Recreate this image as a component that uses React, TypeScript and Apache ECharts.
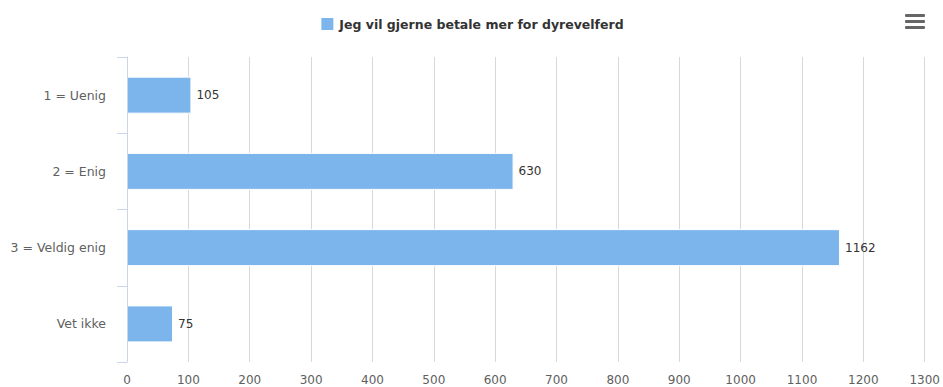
import React, { useEffect, useRef } from "react";
import * as echarts from "echarts";

const categories = ["1 = Uenig", "2 = Enig", "3 = Veldig enig", "Vet ikke"];
const values = [105, 630, 1162, 75];
const seriesName = "Jeg vil gjerne betale mer for dyrevelferd";

export default function App() {
  const ref = useRef<HTMLDivElement>(null);
  useEffect(() => {
    if (!ref.current) return;
    const chart = echarts.init(ref.current, undefined, { renderer: "svg" });
    const font = "'DejaVu Sans', sans-serif";
    chart.setOption({
      animation: false,
      textStyle: { fontFamily: font },
      legend: {
        top: 11,
        left: "center",
        itemWidth: 14,
        itemHeight: 14,
        itemGap: 8,
        icon: "rect",
        textStyle: { fontFamily: font, fontWeight: "bold", fontSize: 12.5, color: "#333", lineHeight: 14 },
        data: [seriesName],
      },
      grid: { left: 127, right: 14, top: 57, bottom: 25, containLabel: false },
      xAxis: {
        type: "value",
        min: 0,
        max: 1300,
        interval: 100,
        axisLine: { show: false },
        axisTick: { show: false },
        axisLabel: {
          color: "#606060",
          fontSize: 12,
          margin: 12,
          fontFamily: font,
          formatter: (v: number) => String(v),
        },
        splitLine: { show: true, lineStyle: { color: "#d8d8d8", width: 1 } },
      },
      yAxis: {
        type: "category",
        inverse: true,
        data: categories,
        axisLine: { show: true, lineStyle: { color: "#ccd6eb" } },
        axisTick: { show: true, length: 10, lineStyle: { color: "#ccd6eb" } },
        axisLabel: { color: "#606060", fontSize: 12.5, margin: 21, fontFamily: font },
        z: 5,
      },
      series: [
        {
          name: seriesName,
          type: "bar",
          data: values,
          barWidth: 37,
          itemStyle: { color: "#7cb5ec", borderColor: "#ffffff", borderWidth: 1 },
          label: {
            show: true,
            position: "right",
            distance: 5,
            color: "#333",
            fontSize: 12,
            fontFamily: font,
          },
        },
      ],
      graphic: [
        { type: "rect", shape: { x: 905, y: 14, width: 20, height: 3, r: 1 }, style: { fill: "#666" } },
        { type: "rect", shape: { x: 905, y: 20, width: 20, height: 3, r: 1 }, style: { fill: "#666" } },
        { type: "rect", shape: { x: 905, y: 26, width: 20, height: 3, r: 1 }, style: { fill: "#666" } },
      ],
    });
    return () => chart.dispose();
  }, []);
  return (
    <div
      ref={ref}
      style={{ position: "absolute", left: 0, top: 0, width: 943, height: 387 }}
    />
  );
}
